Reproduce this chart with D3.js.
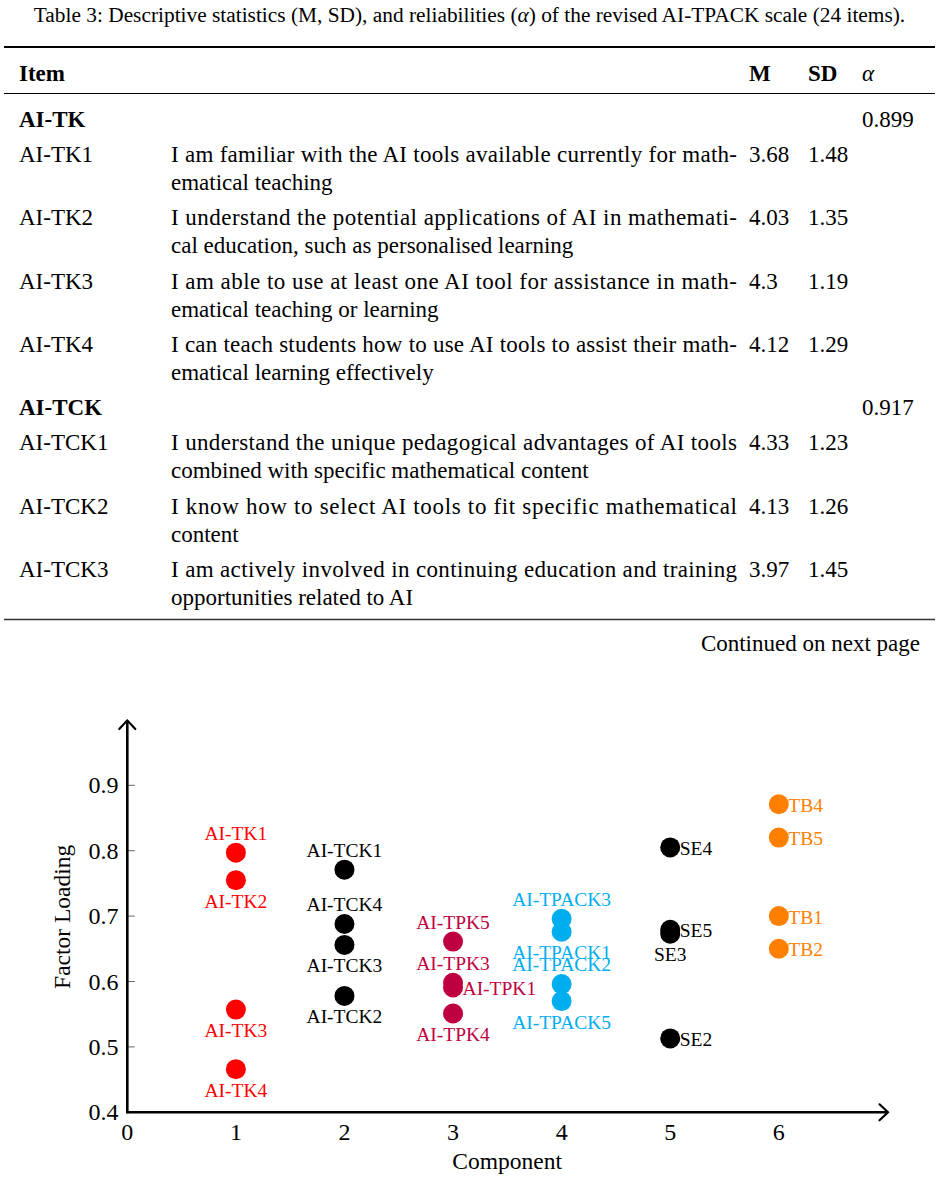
<!DOCTYPE html>
<html>
<head>
<meta charset="utf-8">
<script src="https://cdn.jsdelivr.net/npm/d3@7/dist/d3.min.js"></script>
<style>
  html, body { margin: 0; padding: 0; background: #fff; }
  svg { display: block; }
  text { font-family: "Liberation Serif", "Times New Roman", serif; fill: #000; }
</style>
</head>
<body>
<script>
// ---------------- Table data ----------------
const captionPre = "Table 3: Descriptive statistics (M, SD), and reliabilities (";
const captionAlpha = "α";
const captionPost = ") of the revised AI-TPACK scale (24 items).";
const headerCols = ["Item", "M", "SD", "α"];
const tableGroups = ["AI-TK", "AI-TCK"];
const groupAlpha = ["0.899", "0.917"];
const itemIds = ["AI-TK1", "AI-TK2", "AI-TK3", "AI-TK4", "AI-TCK1", "AI-TCK2", "AI-TCK3"];
const itemGroup = [0, 0, 0, 0, 1, 1, 1];
const itemLine1 = [
  "I am familiar with the AI tools available currently for math-",
  "I understand the potential applications of AI in mathemati-",
  "I am able to use at least one AI tool for assistance in math-",
  "I can teach students how to use AI tools to assist their math-",
  "I understand the unique pedagogical advantages of AI tools",
  "I know how to select AI tools to fit specific mathematical",
  "I am actively involved in continuing education and training"
];
const itemLine2 = [
  "ematical teaching",
  "cal education, such as personalised learning",
  "ematical teaching or learning",
  "ematical learning effectively",
  "combined with specific mathematical content",
  "content",
  "opportunities related to AI"
];
const itemM = ["3.68", "4.03", "4.3", "4.12", "4.33", "4.13", "3.97"];
const itemSD = ["1.48", "1.35", "1.19", "1.29", "1.23", "1.26", "1.45"];
const continuedText = "Continued on next page";

// ---------------- Chart data ----------------
const componentTicks = [0, 1, 2, 3, 4, 5, 6];
const loadingTicks = [0.4, 0.5, 0.6, 0.7, 0.8, 0.9];
const pointLabels = ["AI-TK1","AI-TK2","AI-TK3","AI-TK4",
  "AI-TCK1","AI-TCK4","AI-TCK3","AI-TCK2",
  "AI-TPK5","AI-TPK3","AI-TPK1","AI-TPK4",
  "AI-TPACK3","AI-TPACK1","AI-TPACK2","AI-TPACK5",
  "SE4","SE5","SE3","SE2",
  "TB4","TB5","TB1","TB2"];
const pointComponent = [1,1,1,1, 2,2,2,2, 3,3,3,3, 4,4,4,4, 5,5,5,5, 6,6,6,6];
const pointLoading = [0.797,0.755,0.557,0.466,
  0.771,0.688,0.656,0.578,
  0.661,0.598,0.591,0.551,
  0.696,0.676,0.596,0.570,
  0.805,0.679,0.673,0.513,
  0.871,0.820,0.700,0.650];
const labelSide = ["above","below","below","below",
  "above","above","below","below",
  "above","above","right","below",
  "above","below","above","below",
  "right","right","below","right",
  "right","right","right","right"];
const componentColors = ["#000000", "#FF0000", "#000000", "#BF0040", "#00AEEF", "#000000", "#FF8000"];
const xTitle = "Component";
const yTitle = "Factor Loading";

// ---------------- Drawing ----------------
const W = 939, H = 1182;
const svg = d3.select("body").append("svg").attr("width", W).attr("height", H);

// Caption (fit to measured width of reference)
const cap = svg.append("text").attr("x", W / 2).attr("y", 22).attr("text-anchor", "middle").style("font-size", "17px");
cap.append("tspan").text(captionPre);
cap.append("tspan").style("font-style", "italic").text(captionAlpha);
cap.append("tspan").text(captionPost);
const capW = cap.node().getComputedTextLength();
cap.style("font-size", (17 * 872 / capW).toFixed(2) + "px");

const tFont = 23;
const colItem = 19, colDesc = 171, colM = 749, colSD = 808, colA = 862, descEnd = 737;

// rules
svg.append("line").attr("x1", 4).attr("x2", 935).attr("y1", 47).attr("y2", 47).attr("stroke", "#000").attr("stroke-width", 2);
svg.append("line").attr("x1", 4).attr("x2", 935).attr("y1", 93.5).attr("y2", 93.5).attr("stroke", "#000").attr("stroke-width", 1.2);
svg.append("line").attr("x1", 4).attr("x2", 935).attr("y1", 619.5).attr("y2", 619.5).attr("stroke", "#333").attr("stroke-width", 1.6);

// header
const headerX = [colItem, colM, colSD, colA];
headerCols.forEach((h, i) => {
  const t = svg.append("text").attr("x", headerX[i]).attr("y", 81).style("font-size", tFont + "px").text(h);
  if (i < 3) t.style("font-weight", "bold"); else t.style("font-style", "italic");
});

// body rows
const groupBase = [126.5, 415];
tableGroups.forEach((g, gi) => {
  svg.append("text").attr("x", colItem).attr("y", groupBase[gi]).style("font-size", tFont + "px").style("font-weight", "bold").text(g);
  svg.append("text").attr("x", colA).attr("y", groupBase[gi]).style("font-size", tFont + "px").text(groupAlpha[gi]);
});
const rowStep = 63.5, lineStep = 28;
itemIds.forEach((id, i) => {
  const g = itemGroup[i];
  const idxInGroup = itemGroup.slice(0, i).filter(v => v === g).length;
  const y = groupBase[g] + 35 + idxInGroup * rowStep;
  svg.append("text").attr("x", colItem).attr("y", y).style("font-size", tFont + "px").text(id);
  svg.append("text").attr("x", colDesc).attr("y", y).style("font-size", tFont + "px")
    .attr("textLength", descEnd - colDesc).attr("lengthAdjust", "spacing").text(itemLine1[i]);
  svg.append("text").attr("x", colDesc).attr("y", y + lineStep).style("font-size", tFont + "px").text(itemLine2[i]);
  svg.append("text").attr("x", colM).attr("y", y).style("font-size", tFont + "px").text(itemM[i]);
  svg.append("text").attr("x", colSD).attr("y", y).style("font-size", tFont + "px").text(itemSD[i]);
});

svg.append("text").attr("x", 920).attr("y", 651).attr("text-anchor", "end").style("font-size", tFont + "px").text(continuedText);

// ---------------- Scatter plot ----------------
const x = d3.scaleLinear().domain([0, 6]).range([127.3, 778.8]);
const y = d3.scaleLinear().domain([0.4, 0.9]).range([1112.3, 785.3]);
const x0 = x(0), y0 = y(0.4);
const yTip = 720.5, xTip = 888;

// y ticks (inward)
const yAxisG = svg.append("g");
loadingTicks.forEach(v => {
  yAxisG.append("line").attr("x1", x0).attr("x2", x0 + 7.5).attr("y1", y(v)).attr("y2", y(v)).attr("stroke", "#555").attr("stroke-width", 0.9);
  yAxisG.append("text").attr("x", 118.5).attr("y", y(v) + 8).attr("text-anchor", "end").style("font-size", "24px").text(d3.format(".1f")(v));
});
componentTicks.forEach(v => {
  svg.append("text").attr("x", x(v)).attr("y", 1140).attr("text-anchor", "middle").style("font-size", "24px").text(d3.format("d")(v));
});

// axis lines with arrows
svg.append("path").attr("d", `M${x0},${y0 + 1}L${x0},${yTip + 1}`).attr("stroke", "#000").attr("stroke-width", 2.6).attr("fill", "none");
svg.append("path").attr("d", `M${x0 - 1},${y0}L${xTip - 1},${y0}`).attr("stroke", "#000").attr("stroke-width", 2.6).attr("fill", "none");
svg.append("path").attr("d", `M${x0 - 8},${yTip + 8.5} Q${x0 - 2},${yTip + 2} ${x0},${yTip} Q${x0 + 2},${yTip + 2} ${x0 + 8},${yTip + 8.5}`)
  .attr("stroke", "#000").attr("stroke-width", 2.2).attr("fill", "none").attr("stroke-linecap", "round");
svg.append("path").attr("d", `M${xTip - 8.5},${y0 - 8} Q${xTip - 2},${y0 - 2} ${xTip},${y0} Q${xTip - 2},${y0 + 2} ${xTip - 8.5},${y0 + 8}`)
  .attr("stroke", "#000").attr("stroke-width", 2.2).attr("fill", "none").attr("stroke-linecap", "round");

// axis titles
svg.append("text").attr("x", (x0 + xTip) / 2 - 0.5).attr("y", 1169).attr("text-anchor", "middle").style("font-size", "23.5px").text(xTitle);
svg.append("text").attr("transform", `translate(70,${y(0.65) - 32}) rotate(-90)`).attr("text-anchor", "middle").style("font-size", "23.5px").text(yTitle);

// points
const pts = pointLabels.map((l, i) => ({ label: l, c: pointComponent[i], v: pointLoading[i], side: labelSide[i] }));
svg.append("g").selectAll("circle").data(pts).join("circle")
  .attr("cx", d => x(d.c)).attr("cy", d => y(d.v)).attr("r", 10)
  .attr("fill", d => componentColors[d.c]);

const lblFont = 19.5;
svg.append("g").selectAll("text").data(pts).join("text")
  .style("font-size", lblFont + "px")
  .style("fill", d => componentColors[d.c])
  .attr("text-anchor", d => d.side === "right" ? "start" : "middle")
  .attr("x", d => d.side === "right" ? x(d.c) + 9.5 : x(d.c))
  .attr("y", d => {
    const cy = y(d.v);
    if (d.side === "above") return cy - 13;
    if (d.side === "below") return cy + 27.5;
    return cy + 7.5;
  })
  .text(d => d.label);
</script>
</body>
</html>
